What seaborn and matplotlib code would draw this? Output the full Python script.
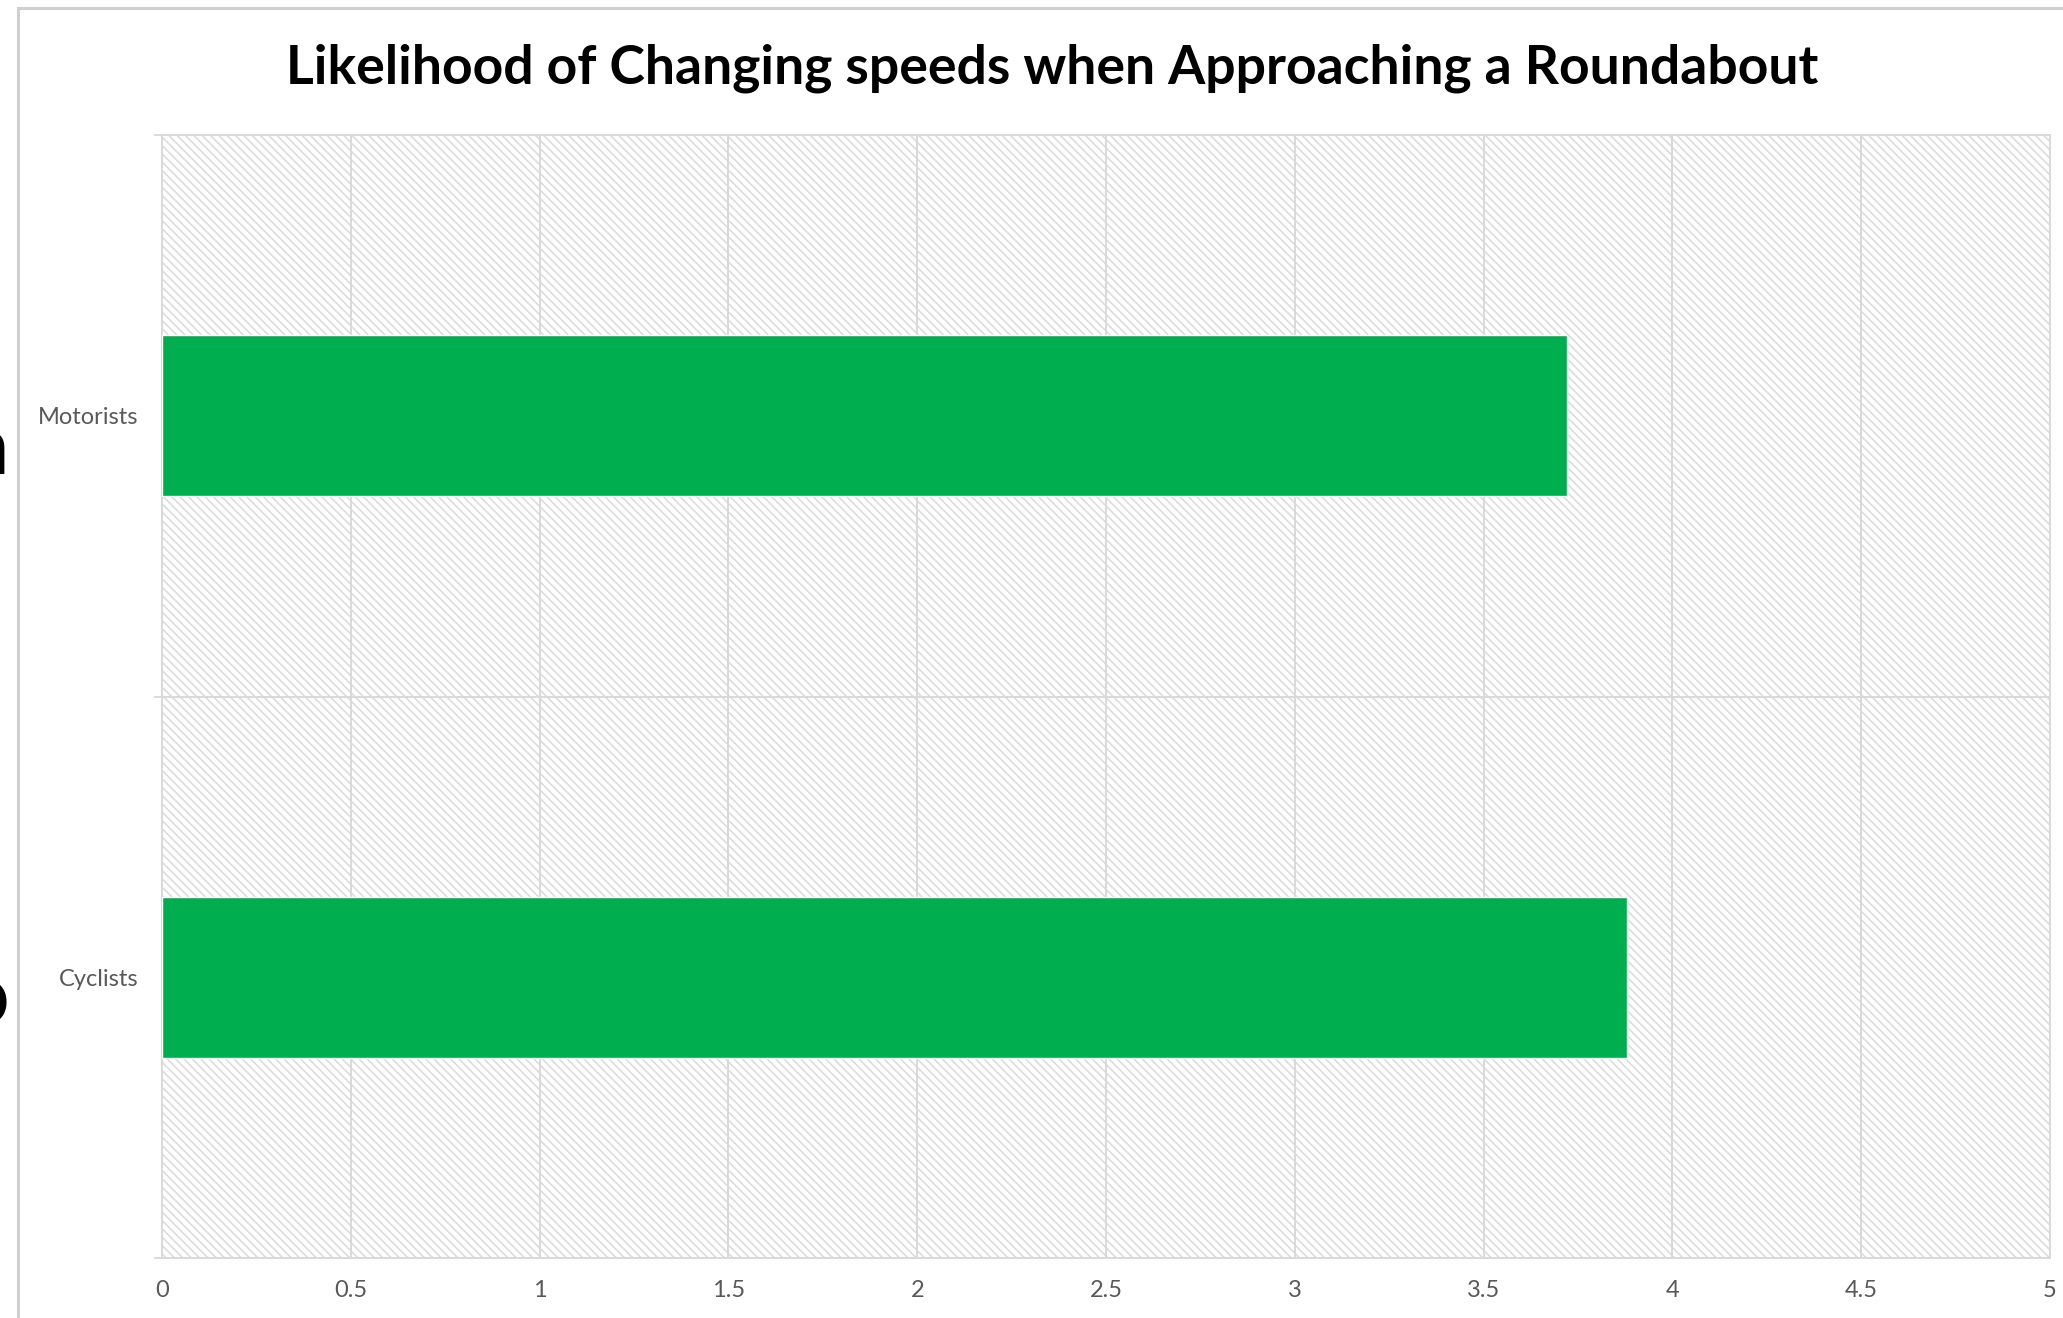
import matplotlib
matplotlib.use("Agg")
import matplotlib.pyplot as plt
from matplotlib.patches import Rectangle
import seaborn as sns
import pandas as pd

# ---- data ----
categories = ["Motorists", "Cyclists"]
values = [3.72, 3.88]
x_ticks = [0, 0.5, 1, 1.5, 2, 2.5, 3, 3.5, 4, 4.5, 5]
x_tick_labels = ["0", "0.5", "1", "1.5", "2", "2.5", "3", "3.5", "4", "4.5", "5"]
title = "Likelihood of Changing speeds when Approaching a Roundabout"

df = pd.DataFrame({"group": categories, "value": values})

sns.set_theme(style="white")
plt.rcParams["font.family"] = ["Lato", "DejaVu Sans"]
plt.rcParams["hatch.linewidth"] = 1.2

W, H = 2063, 1318
fig = plt.figure(figsize=(W / 100, H / 100), dpi=100)
fig.patch.set_facecolor("white")

L, R, T, B = 162, 2050, 135, 1258
ax = fig.add_axes([L / W, 1 - B / H, (R - L) / W, (B - T) / H])
ax.set_facecolor("white")

# hatched plot-area background
bg = Rectangle((0, 0), 1, 1, transform=ax.transAxes, facecolor="white",
               edgecolor="#dcdcdc", hatch="\\\\\\\\", linewidth=0, zorder=0)
ax.add_patch(bg)

GREEN = "#00AD4F"
GRID = "#d9d9d9"
TICKC = "#595959"

sns.barplot(data=df, x="value", y="group", orient="h", color=GREEN,
            saturation=1, width=0.286, ax=ax, zorder=3)

ax.set_xlim(0, 5)
ax.set_ylim(1.5, -0.5)
ax.set_xlabel("")
ax.set_ylabel("")

# x axis
ax.set_xticks(x_ticks)
ax.set_xticklabels(x_tick_labels)
ax.tick_params(axis="x", length=0, pad=16, labelsize=17, labelcolor=TICKC)

# y axis: boundaries as major ticks, labels as minor
ax.set_yticks([-0.5, 0.5, 1.5])
ax.set_yticklabels([])
ax.set_yticks([0, 1], minor=True)
ax.set_yticklabels(categories, minor=True)
ax.tick_params(axis="y", which="major", length=6, width=1.4, color=GRID,
               direction="out", left=True)
ax.tick_params(axis="y", which="minor", length=0, pad=17, labelsize=17,
               labelcolor=TICKC, left=False)

ax.grid(True, axis="x", which="major", color=GRID, linewidth=1.4)
ax.grid(True, axis="y", which="major", color=GRID, linewidth=1.4)
ax.set_axisbelow(True)

for s in ax.spines.values():
    s.set_visible(True)
    s.set_color(GRID)
    s.set_linewidth(1.4)

# title
fig.text(1052 / W, 1 - 68 / H, title, ha="center", va="center",
         fontsize=38.5, fontweight="bold", color="black")

# outer chart frame (extends beyond right and bottom edges)
frame = Rectangle((18 / W, -0.1), 1.2, 1 - 8 / H + 0.1, transform=fig.transFigure,
                  fill=False, edgecolor="#d0d0d0", linewidth=2.2)
fig.patches.append(frame)

# cut-off glyphs of neighbouring text at the left edge
fig.text(9 / W, 1 - 450 / H, "n", ha="right", va="center", fontsize=60,
         fontweight="bold", color="black")
fig.text(9 / W, 1 - 1000 / H, "o", ha="right", va="center", fontsize=62,
         fontweight="bold", color="black")

fig.savefig("out.png", dpi=100, facecolor="white")
